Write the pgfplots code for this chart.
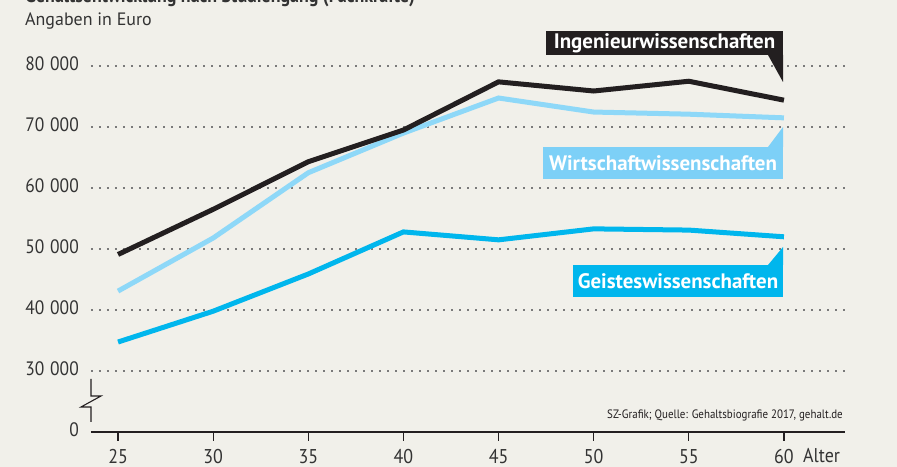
\documentclass[border=0pt]{standalone}
\usepackage{fontspec}
\setmainfont{PT Sans}
\newfontfamily\cond[FakeStretch=0.9]{PT Sans}
\usepackage{pgfplots}
\pgfplotsset{compat=1.18}
\usetikzlibrary{backgrounds}
\definecolor{bg}{HTML}{F1F0EA}
\definecolor{ing}{HTML}{231F20}
\definecolor{wir}{HTML}{8ED8F8}
\definecolor{wirbox}{HTML}{7DD0F7}
\definecolor{gei}{HTML}{00B6ED}
\definecolor{txt}{HTML}{333333}
\definecolor{dots}{HTML}{7A7A7A}
\begin{document}
\begin{tikzpicture}[x=1bp,y=1bp]
\begin{axis}[
  scale only axis,
  width=754bp, height=390.4bp,
  xmin=23.5789, xmax=63.2105, ymin=20000, ymax=84000,
  axis x line=bottom, axis y line=left,
  x axis line style={-, line width=1.2bp, color=ing},
  y axis line style={draw=none},
  xtick={25,30,...,60},
  xticklabels={25,30,35,40,45,50,55,60},
  scaled y ticks=false,
  ytick={30000,40000,50000,60000,70000,80000},
  yticklabels={30\hspace{0.3em}000,40\hspace{0.3em}000,50\hspace{0.3em}000,60\hspace{0.3em}000,70\hspace{0.3em}000,80\hspace{0.3em}000},
  extra y ticks={20000}, extra y tick labels={0},
  extra y tick style={grid=none},
  ymajorgrids,
  grid style={dots, line width=1.6bp, dash pattern=on 1.6bp off 6.4bp},
  tick align=outside, major tick length=9bp,
  xtick style={color=ing, line width=1.2bp},
  ytick style={draw=none},
  xticklabel style={font=\cond\fontsize{20}{20}\selectfont, text=txt, inner sep=0pt, anchor=base, yshift=-22.5bp},
  yticklabel style={font=\cond\fontsize{19.5}{19.5}\selectfont, text=txt, inner sep=0pt, xshift=-3bp, yshift=2.5bp},
  clip=false,
  every axis plot/.append style={line width=5bp, line join=miter, line cap=butt},
]
\addplot[gei] coordinates {(25,34750) (30,39800) (35,45900) (40,52800) (45,51500) (50,53300) (55,53100) (60,52000)};
\addplot[wir] coordinates {(25,43100) (30,51800) (35,62500) (40,69000) (45,74750) (50,72450) (55,72100) (60,71500)};
\addplot[ing] coordinates {(25,49100) (30,56500) (35,64300) (40,69500) (45,77400) (50,75900) (55,77500) (60,74400)};
\coordinate (P) at (rel axis cs:0,0);
\end{axis}
\begin{scope}[shift={(P)}, shift={(-91,-35)}]
\begin{pgfonlayer}{background}
\fill[bg] (0,0) rectangle (897,467);
\end{pgfonlayer}
\useasboundingbox (0,0) rectangle (897,467);
\node[anchor=base west, font=\cond\bfseries\fontsize{20}{20}\selectfont, text=txt, inner sep=0pt] at (25,464) {Gehaltsentwicklung nach Studiengang (Fachkräfte)};
\node[anchor=base west, font=\fontsize{18}{18}\selectfont, text=txt, inner sep=0pt] at (25,441) {Angaben in Euro};
% axis break
\draw[ing, line width=1.1bp] (91,467-379)--(91,467-396)--(101,467-396)--(81,467-407)--(91,467-407)--(91,467-422);
% labels
\fill[ing] (546,467-31) rectangle (783,467-55);
\fill[ing] (768,467-55)--(783,467-55)--(783,467-82)--cycle;
\node[text=white, font=\bfseries\fontsize{21}{21}\selectfont] at (664.5,467-43) {Ingenieurwissenschaften};
\fill[wirbox] (543,467-147) rectangle (783,467-179);
\fill[wirbox] (768,467-147)--(783,467-147)--(783,467-127)--cycle;
\node[text=white, font=\bfseries\fontsize{21}{21}\selectfont] at (663,467-163) {Wirtschaftwissenschaften};
\fill[gei] (573,467-265) rectangle (783,467-297);
\fill[gei] (768,467-265)--(783,467-265)--(783,467-247)--cycle;
\node[text=white, font=\bfseries\fontsize{21}{21}\selectfont] at (678,467-281) {Geisteswissenschaften};
% source and Alter
\node[anchor=base east, font=\cond\fontsize{12.2}{12.2}\selectfont, text=ing, inner sep=0pt] at (843,467-419) {SZ-Grafik; Quelle: Gehaltsbiografie 2017, gehalt.de};
\node[anchor=base west, font=\cond\fontsize{20}{20}\selectfont, text=txt, inner sep=0pt] at (803,4) {Alter};
\end{scope}
\end{tikzpicture}
\end{document}
